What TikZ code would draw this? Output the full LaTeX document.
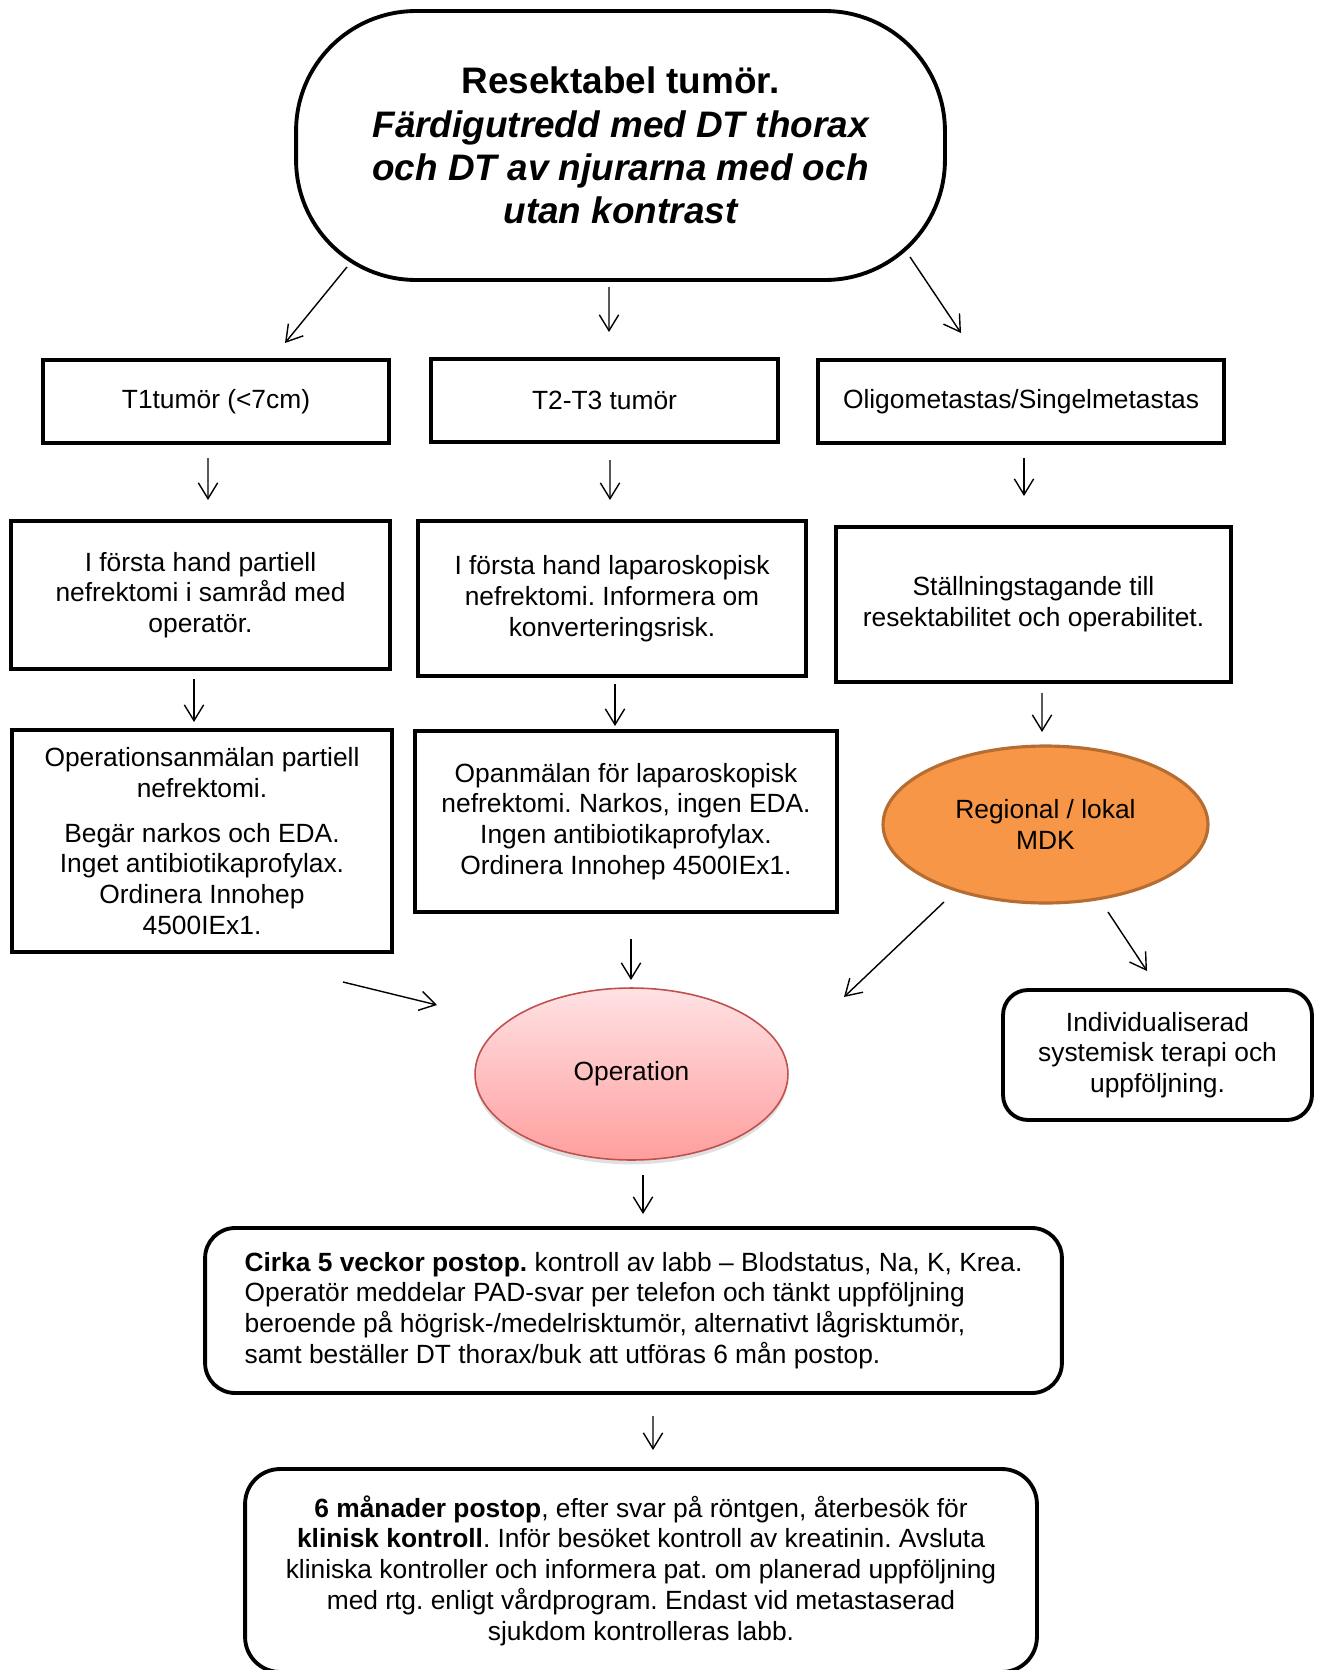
\documentclass[tikz,border=0pt]{standalone}
\usepackage{fontspec}
\setmainfont{Liberation Sans}
\usetikzlibrary{arrows.meta,calc,shapes.geometric,shadows}
\definecolor{mdkfill}{RGB}{247,150,70}
\definecolor{mdkline}{RGB}{182,109,49}
\definecolor{optop}{RGB}{255,226,228}
\definecolor{opbot}{RGB}{255,158,158}
\definecolor{opline}{RGB}{192,80,77}
\frenchspacing
\begin{document}
\frenchspacing
\begin{tikzpicture}[x=0.02cm,y=-0.02cm,
  base/.style={font=\fontsize{15}{17.5}\selectfont\frenchspacing, align=center, inner sep=0pt, outer sep=0pt},
  sq/.style={base, draw, line width=2.2pt, rectangle},
  rnd/.style={sq, rounded corners=#1},
  arr/.style={draw, line width=0.8pt, -{Straight Barb[length=9pt,width=11pt,line width=0.8pt]}},
]
\useasboundingbox (0,0) rectangle (1316,1670);

% top terminal
\node[rnd=2.4cm, minimum width=12.98cm, minimum height=5.38cm,
      font=\fontsize{21}{24.6}\selectfont\bfseries] (top) at (620.5,145.5)
  {Resektabel tumör.\\ {\itshape Färdigutredd med DT thorax}\\ {\itshape och DT av njurarna med och}\\ {\itshape utan kontrast}};

% row 1
\node[sq, minimum width=6.92cm, minimum height=1.66cm] (t1) at (216,401.5) {T1tumör (<7cm)};
\node[sq, minimum width=6.94cm, minimum height=1.66cm] (t2) at (604.5,400.5) {T2-T3 tumör};
\node[sq, minimum width=8.12cm, minimum height=1.66cm] (t3) at (1021,401.5) {Oligometastas/Singelmetastas};

% row 2
\node[sq, minimum width=7.58cm, minimum height=2.96cm] (a) at (200.5,595)
  {I första hand partiell\\ nefrektomi i samråd med\\ operatör.};
\node[sq, minimum width=7.76cm, minimum height=3.10cm] (b) at (612,598.5)
  {I första hand laparoskopisk\\ nefrektomi. Informera om\\ konverteringsrisk.};
\node[sq, minimum width=7.90cm, minimum height=3.10cm] (c) at (1033.5,604.5)
  {Ställningstagande till\\ resektabilitet och operabilitet.};

% row 3
\node[sq, minimum width=7.60cm, minimum height=4.44cm] (d) at (202,841)
  {Operationsanmälan partiell\\ nefrektomi.\\[8pt] Begär narkos och EDA.\\ Inget antibiotikaprofylax.\\ Ordinera Innohep\\ 4500IEx1.};
\node[sq, minimum width=8.44cm, minimum height=3.62cm] (e) at (626,821.5)
  {Opanmälan för laparoskopisk\\ nefrektomi. Narkos, ingen EDA.\\ Ingen antibiotikaprofylax.\\ Ordinera Innohep 4500IEx1.};
\node[base, ellipse, draw=mdkline, fill=mdkfill, line width=1.8pt,
      minimum width=6.5cm, minimum height=3.14cm] (mdk) at (1045.5,824.5)
  {Regional / lokal\\ MDK};

% operation
\node[base, ellipse, draw=opline, line width=0.9pt, top color=optop, bottom color=opbot,
      drop shadow={shadow xshift=0pt, shadow yshift=-2.5pt, opacity=0.12, fill=black},
      minimum width=6.26cm, minimum height=3.44cm] (op) at (631.5,1074) {Operation};
\node[rnd=0.5cm, minimum width=6.18cm, minimum height=2.60cm] (ind) at (1157.5,1055)
  {Individualiserad\\ systemisk terapi och\\ uppföljning.};

% follow-up
\node[rnd=0.6cm, align=left, minimum width=17.14cm, minimum height=3.30cm] (f) at (633.5,1310.5)
  {\textbf{Cirka 5 veckor postop.} kontroll av labb – Blodstatus, Na, K, Krea.\\
   Operatör meddelar PAD-svar per telefon och tänkt uppföljning\\
   beroende på högrisk-/medelrisktumör, alternativt lågrisktumör,\\
   samt beställer DT thorax/buk att utföras 6 mån postop.};
\node[rnd=0.7cm, minimum width=15.84cm, minimum height=4.06cm] (g) at (641,1570.5)
  {\textbf{6 månader postop}, efter svar på röntgen, återbesök för\\
   \textbf{klinisk kontroll}. Inför besöket kontroll av kreatinin. Avsluta\\
   kliniska kontroller och informera pat. om planerad uppföljning\\
   med rtg. enligt vårdprogram. Endast vid metastaserad\\
   sjukdom kontrolleras labb.};

% connectors
\draw[arr] ($(top.center)+(-273.5,121.5)$) -- ($(t1.center)+(69,-58.5)$);
\draw[arr] ($(top.center)+(-11.5,141.5)$) -- ($(t2.center)+(4.5,-68.5)$);
\draw[arr] ($(top.center)+(289.5,111.5)$) -- ($(t3.center)+(-60,-68.5)$);
\draw[arr] ($(t1.center)+(-8,56.5)$) -- ($(a.center)+(7.5,-95)$);
\draw[arr] ($(t2.center)+(5.5,59.5)$) -- ($(b.center)+(-2,-98.5)$);
\draw[arr] ($(t3.center)+(3,56.5)$) -- ($(c.center)+(-9.5,-108.5)$);
\draw[arr] ($(a.center)+(-6.5,84)$) -- ($(d.center)+(-8,-119)$);
\draw[arr] ($(b.center)+(3,85.5)$) -- ($(e.center)+(-11,-95.5)$);
\draw[arr] ($(c.center)+(8.5,88.5)$) -- ($(mdk.center)+(-3.5,-92.5)$);
\draw[arr] ($(d.center)+(141,141)$) -- ($(op.center)+(-194.5,-69)$);
\draw[arr] ($(e.center)+(5,117.5)$) -- ($(op.center)+(-0.5,-94)$);
\draw[arr] ($(mdk.center)+(-101.5,77.5)$) -- ($(op.center)+(212.5,-77)$);
\draw[arr] ($(mdk.center)+(62.5,87.5)$) -- ($(ind.center)+(-10.5,-84)$);
\draw[arr] ($(op.center)+(11.5,101)$) -- ($(f.center)+(9.5,-96.5)$);
\draw[arr] ($(f.center)+(19.5,105.5)$) -- ($(g.center)+(12,-120.5)$);
\end{tikzpicture}
\end{document}
